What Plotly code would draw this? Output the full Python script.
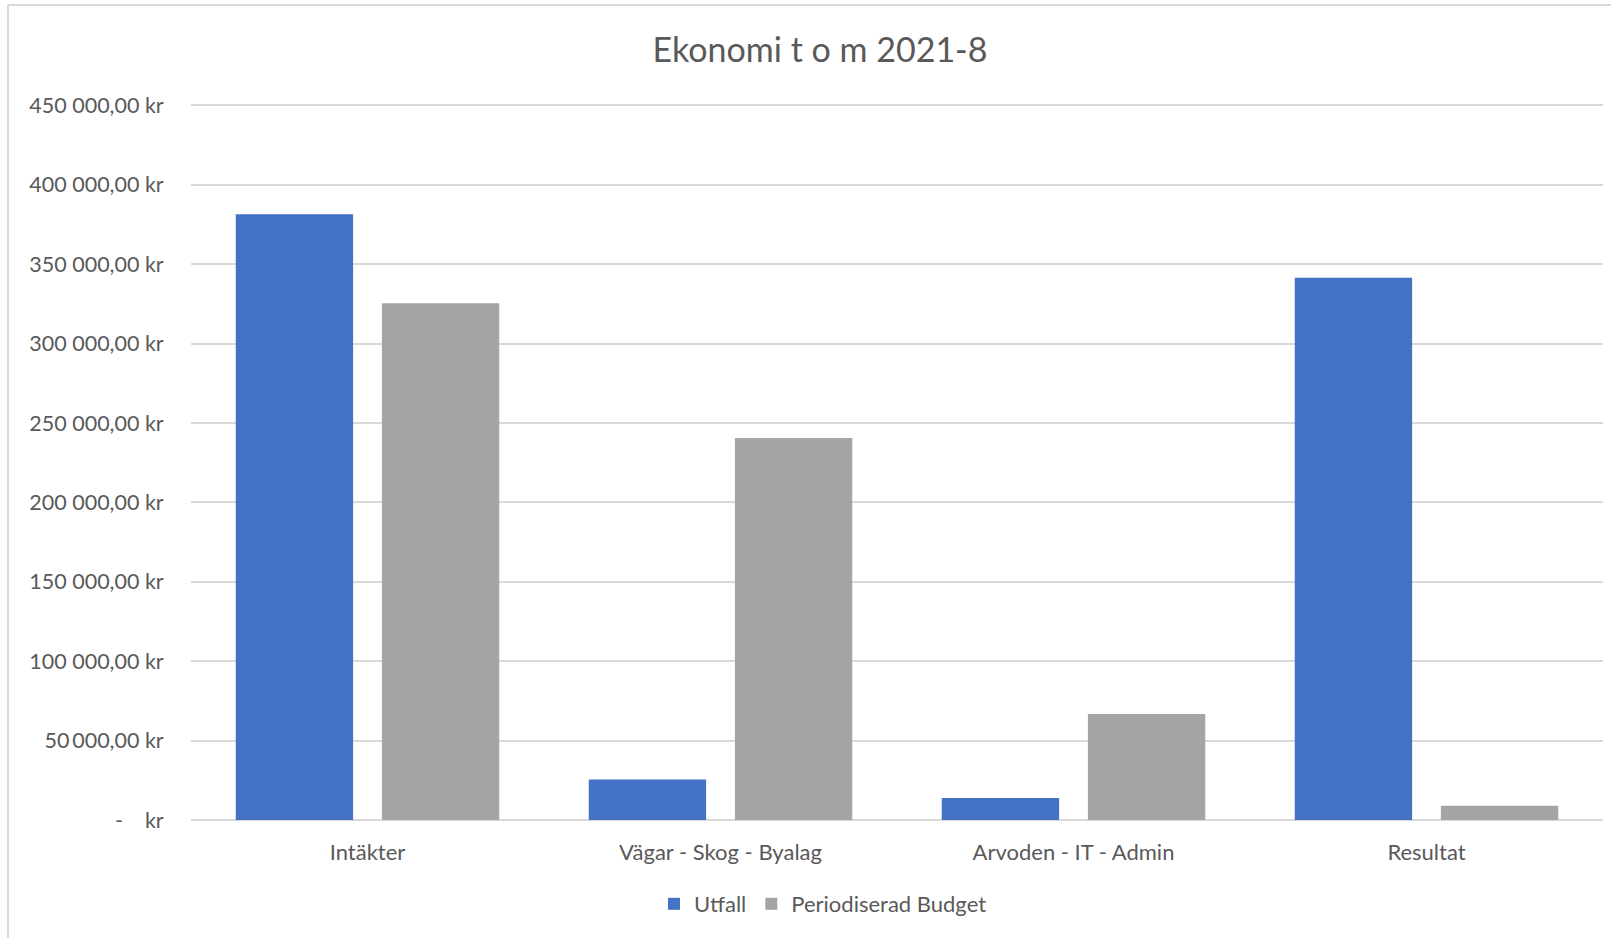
import plotly.graph_objects as go

categories = ["Intäkter", "Vägar - Skog - Byalag", "Arvoden - IT - Admin", "Resultat"]
utfall = [381500, 25500, 13800, 341500]
budget = [325500, 240500, 66800, 9000]
tick_vals = [0, 50000, 100000, 150000, 200000, 250000, 300000, 350000, 400000, 450000]
tick_text = ["-\u00a0\u00a0\u00a0 kr", "50\u2009000,00 kr", "100 000,00 kr", "150 000,00 kr",
             "200 000,00 kr", "250 000,00 kr", "300 000,00 kr", "350 000,00 kr",
             "400 000,00 kr", "450 000,00 kr"]

FONT = "Lato, Open Sans, sans-serif"
GREY_TXT = "#595959"

fig = go.Figure()
fig.add_trace(go.Bar(name="Utfall", x=categories, y=utfall, marker_color="#4472C4",
                     marker_line_width=0))
fig.add_trace(go.Bar(name="Periodiserad Budget", x=categories, y=budget, marker_color="#A5A5A5",
                     marker_line_width=0))

W, H = 1611, 938
L, R, T, B = 191, 8, 104, 118
pw, ph = W - L - R, H - T - B

fig.update_layout(
    width=W, height=H,
    margin=dict(l=L, r=R, t=T, b=B),
    paper_bgcolor="white", plot_bgcolor="white",
    barmode="group", bargap=0.172, bargroupgap=0.197,
    title=dict(text="Ekonomi t o m 2021-8", x=820 / W, xanchor="center",
               y=1 - 50 / H, yanchor="middle",
               font=dict(family=FONT, size=34, color=GREY_TXT)),
    font=dict(family=FONT, color=GREY_TXT),
    showlegend=True,
    legend=dict(orientation="h", x=(823 - L) / pw, xanchor="center",
                y=-(904 - (T + ph)) / ph, yanchor="middle",
                font=dict(family=FONT, size=22, color=GREY_TXT),
                itemwidth=30, traceorder="normal"),
    xaxis=dict(showgrid=False, showline=False, zeroline=False,
               tickfont=dict(family=FONT, size=22, color=GREY_TXT),
               ticks="outside", ticklen=13, tickcolor="rgba(0,0,0,0)"),
    yaxis=dict(range=[0, 450900], tickvals=tick_vals, ticktext=tick_text,
               showgrid=True, gridcolor="#D9D9D9", gridwidth=2,
               zeroline=True, zerolinecolor="#D9D9D9", zerolinewidth=2,
               showline=False,
               tickfont=dict(family=FONT, size=21.5, color=GREY_TXT),
               ticks="outside", ticklen=22, tickcolor="rgba(0,0,0,0)"),
    shapes=[
        dict(type="line", xref="paper", yref="paper",
             x0=(8 - L) / pw, x1=(8 - L) / pw, y0=(T + ph - 938) / ph, y1=(T + ph - 5) / ph,
             line=dict(color="#D9D9D9", width=2)),
        dict(type="line", xref="paper", yref="paper",
             x0=(8 - L) / pw, x1=(1611 - L) / pw, y0=(T + ph - 5) / ph, y1=(T + ph - 5) / ph,
             line=dict(color="#D9D9D9", width=2)),
    ],
)

fig.write_html("out.html", config={"displayModeBar": False},
               post_script="document.body.style.margin='0';document.body.style.overflow='hidden';")
